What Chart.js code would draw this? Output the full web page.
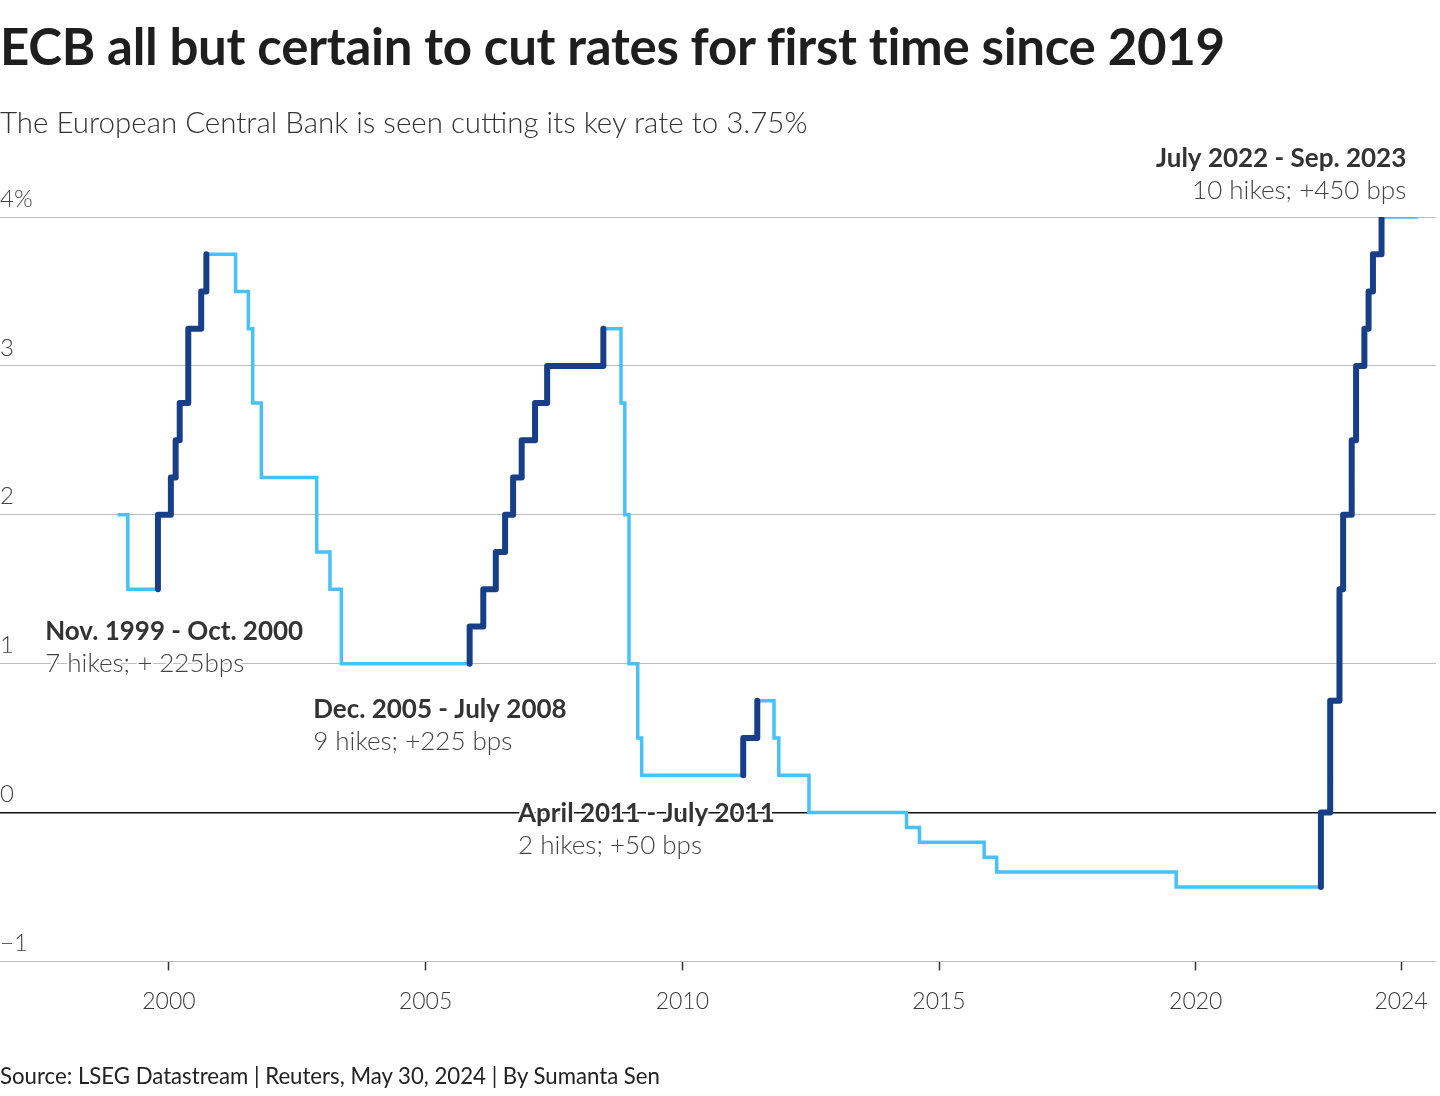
<!DOCTYPE html>
<html>
<head>
<meta charset="utf-8">
<title>ECB rates</title>
<script src="https://cdn.jsdelivr.net/npm/chart.js@4.4.1/dist/chart.umd.min.js"></script>
<style>
  html, body { margin: 0; padding: 0; background: #fff; }
  body { width: 1440px; height: 1096px; position: relative; overflow: hidden; font-family: Lato, sans-serif; }
  .txt { position: absolute; left: 0; white-space: nowrap; }
  #title { top: 15px; font-size: 51px; font-weight: 700; color: #1e1e1e; letter-spacing: -0.3px; }
  #subtitle { top: 104px; font-size: 29.5px; font-weight: 300; color: #333; }
  #source { top: 1062px; font-size: 22.2px; font-weight: 400; color: #222; }
  #chart-wrap { position: absolute; left: 0; top: 0; width: 1440px; height: 1096px; }
</style>
</head>
<body>
<div id="chart-wrap"><canvas id="graph-box"></canvas></div>
<div class="txt" id="title">ECB all but certain to cut rates for first time since 2019</div>
<div class="txt" id="subtitle">The European Central Bank is seen cutting its key rate to 3.75%</div>
<div class="txt" id="source">Source: LSEG Datastream | Reuters, May 30, 2024 | By Sumanta Sen</div>
<script>
// dates a new rate took effect (as plotted), and the rate from that date
const rateDates = [
    '1999-01-01', '1999-03-15', '1999-10-15', '2000-01-15', '2000-02-18', '2000-03-18',
    '2000-05-18', '2000-08-18', '2000-09-24', '2001-04-20', '2001-07-20', '2001-08-20',
    '2001-10-20', '2002-11-18', '2003-02-20', '2003-05-12', '2005-11-10', '2006-02-15',
    '2006-05-15', '2006-07-20', '2006-09-15', '2006-11-15', '2007-02-18', '2007-05-15',
    '2008-06-18', '2008-10-22', '2008-11-18', '2008-12-18', '2009-02-18', '2009-03-18',
    '2011-03-10', '2011-06-18', '2011-10-15', '2011-11-18', '2012-06-20', '2014-05-15',
    '2014-08-15', '2015-11-18', '2016-02-15', '2019-08-15', '2022-06-10', '2022-08-15',
    '2022-10-20', '2022-11-15', '2023-01-15', '2023-02-15', '2023-04-15', '2023-05-15',
    '2023-06-15', '2023-08-15', '2024-05-01'
];
const rates = [
    2.0, 1.5, 2.0, 2.25, 2.5, 2.75,
    3.25, 3.5, 3.75, 3.5, 3.25, 2.75,
    2.25, 1.75, 1.5, 1.0, 1.25, 1.5,
    1.75, 2.0, 2.25, 2.5, 2.75, 3.0,
    3.25, 2.75, 2.0, 1.0, 0.5, 0.25,
    0.5, 0.75, 0.5, 0.25, 0.0, -0.1,
    -0.2, -0.3, -0.4, -0.5, 0.0, 0.75,
    1.5, 2.0, 2.5, 3.0, 3.25, 3.5,
    3.75, 4.0, 4.0
];
// first and last hike of each tightening cycle
const hikeStarts = ['1999-10-15', '2005-11-10', '2011-03-10', '2022-06-10'];
const hikeEnds   = ['2000-09-24', '2008-06-18', '2011-06-18', '2023-08-15'];

const yTicks = [-1, 0, 1, 2, 3, 4];
const xTicks = [2000, 2005, 2010, 2015, 2020, 2024];

const notes = [
    { year: 1997.59, value: 1.0,  align: 'left',  head: 'Nov. 1999 - Oct. 2000', body: '7 hikes; + 225bps' },
    { year: 2002.81, value: 0.477, align: 'left', head: 'Dec. 2005 - July 2008', body: '9 hikes; +225 bps' },
    { year: 2006.80, value: -0.22, align: 'left', head: 'April 2011 - July 2011', body: '2 hikes; +50 bps' },
    { year: 2024.10, value: 4.18, align: 'right', head: 'July 2022 - Sep. 2023', body: '10 hikes; +450 bps' }
];

function toYear(s) {
    const [yy, mm, dd] = s.split('-').map(Number);
    const start = Date.UTC(yy, 0, 1);
    const end = Date.UTC(yy + 1, 0, 1);
    return yy + (Date.UTC(yy, mm - 1, dd) - start) / (end - start);
}

const allPoints = rateDates.map((d, i) => ({ x: toYear(d), y: rates[i] }));

// hike cycles: start at the level before the first hike, then every step up
const hikePoints = [];
hikeStarts.forEach((s, k) => {
    const a = rateDates.indexOf(s);
    const b = rateDates.indexOf(hikeEnds[k]);
    hikePoints.push({ x: toYear(s), y: rates[a - 1] });
    for (let i = a; i <= b; i++) hikePoints.push({ x: toYear(rateDates[i]), y: rates[i] });
    hikePoints.push({ x: toYear(rateDates[b]) + 0.001, y: null });
});

const notePlugin = {
    id: 'notes',
    afterDatasetsDraw(chart) {
        const { ctx, scales: { x, y } } = chart;
        ctx.save();
        ctx.textBaseline = 'middle';
        ctx.lineJoin = 'round';
        notes.forEach(n => {
            const px = x.getPixelForValue(n.year);
            const py = y.getPixelForValue(n.value);
            ctx.textAlign = n.align;
            ctx.strokeStyle = '#fff';
            ctx.lineWidth = 4;

            ctx.font = '700 26px Lato';
            ctx.fillStyle = '#333';
            ctx.strokeText(n.head, px, py - 32);
            ctx.fillText(n.head, px, py - 32);

            ctx.font = '300 26px Lato';
            ctx.fillStyle = '#444';
            ctx.strokeText(n.body, px, py);
            ctx.fillText(n.body, px, py);
        });
        ctx.restore();
    }
};

const ctx = document.getElementById('graph-box');

const myChart = new Chart(ctx, {
    type: 'line',
    data: {
        datasets: [
        {
            label: 'hikes',
            data: hikePoints,
            borderColor: '#173f88',
            borderWidth: 6,
            borderCapStyle: 'round',
            borderJoinStyle: 'round',
            stepped: true,
            spanGaps: false,
            pointRadius: 0,
            order: 0
        },
        {
            label: 'rate',
            data: allPoints,
            borderColor: '#47c1f9',
            borderWidth: 3.5,
            borderJoinStyle: 'miter',
            stepped: true,
            pointRadius: 0,
            order: 1
        }]
    },
    options: {
        responsive: true,
        maintainAspectRatio: false,
        animation: false,
        layout: {
            padding: { top: 217, left: 0, right: 4, bottom: 64 }
        },
        plugins: {
            legend: { display: false },
            tooltip: { enabled: false }
        },
        scales: {
            x: {
                type: 'linear',
                min: 1996.71,
                max: 2024.68,
                afterBuildTicks: axis => { axis.ticks = xTicks.map(v => ({ value: v })); },
                afterFit: axis => { axis.paddingLeft = 0; axis.paddingRight = 0; },
                grid: {
                    drawOnChartArea: false,
                    drawTicks: true,
                    tickLength: 9,
                    tickColor: '#333',
                    tickWidth: 1.5
                },
                border: { display: false },
                ticks: {
                    padding: 17,
                    color: '#3a3a3a',
                    font: { family: 'Lato', size: 23, weight: '300' },
                    callback: v => String(v)
                }
            },
            y: {
                min: -1,
                max: 4,
                afterBuildTicks: axis => { axis.ticks = yTicks.map(v => ({ value: v })); },
                grid: {
                    drawTicks: false,
                    color: ctx => ctx.tick && ctx.tick.value === 0 ? '#111' : '#bdbdbd',
                    lineWidth: ctx => ctx.tick && ctx.tick.value === 0 ? 1.5 : 1
                },
                border: { display: false },
                ticks: {
                    mirror: true,
                    padding: 0,
                    labelOffset: -18,
                    color: '#444',
                    font: { family: 'Lato', size: 24, weight: '300' },
                    callback: v => v === 4 ? '4%' : (v < 0 ? '\u2212' + Math.abs(v) : String(v))
                }
            }
        }
    },
    plugins: [notePlugin]
});
</script>
</body>
</html>
